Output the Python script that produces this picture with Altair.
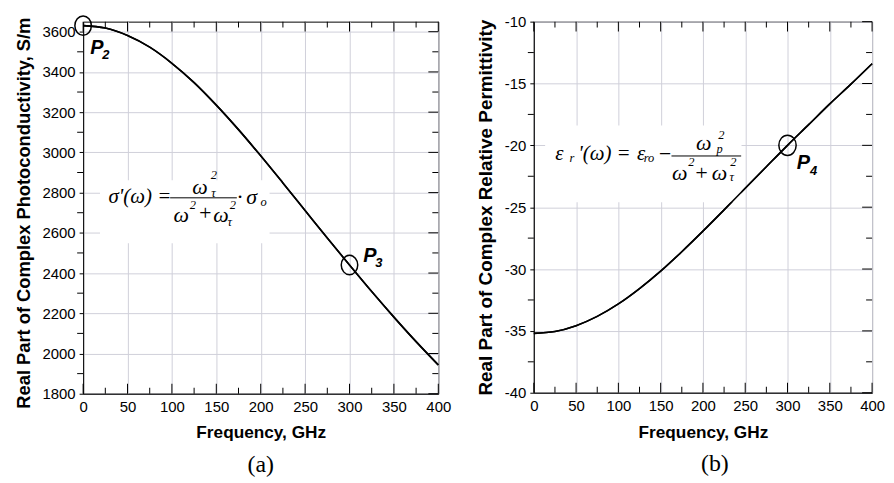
import altair as alt
import pandas as pd

# ---------------- data ----------------
freq_ghz = [0, 25, 50, 75, 100, 125, 150, 175, 200, 225, 250, 275, 300, 325, 350, 375, 400]
sigma_real = [3630, 3618, 3581, 3523, 3443, 3347, 3235, 3113, 2983, 2848, 2711, 2574,
              2440, 2308, 2181, 2059, 1943]
eps_real = [-35.2, -35.05, -34.58, -33.83, -32.82, -31.58, -30.17, -28.60, -26.94,
            -25.22, -23.47, -21.73, -20.0, -18.33, -16.65, -15.05, -13.4]

x_major = [0, 50, 100, 150, 200, 250, 300, 350, 400]
x_minor = [25, 75, 125, 175, 225, 275, 325, 375]
ya_major = [1800, 2000, 2200, 2400, 2600, 2800, 3000, 3200, 3400, 3600]
ya_minor = [1900, 2100, 2300, 2500, 2700, 2900, 3100, 3300, 3500]
yb_major = [-40, -35, -30, -25, -20, -15, -10]
yb_minor = [-37.5, -32.5, -27.5, -22.5, -17.5, -12.5]

# marked points
pts_a_x = [0, 300]
pts_a_y = [3630, 2440]
pts_b_x = [300]
pts_b_y = [-20.0]

XDOM = [0, 400]
YA_DOM = [1800, 3650]
YB_DOM = [-40, -10]

W_A, H_A = 357, 374
W_B, H_B = 340, 373

SERIF = "Liberation Serif"
SANS = "Liberation Sans"

XS = alt.Scale(domain=XDOM, nice=False)
LABEL_EXPR = "datum.value + ''"


def text_layer(df, ys, size, italic=True, font=SERIF, weight="normal", align="center"):
    return alt.Chart(df).mark_text(
        font=font, fontSize=size, fontStyle="italic" if italic else "normal",
        fontWeight=weight, align=align, baseline="middle", color="black"
    ).encode(
        x=alt.X("x:Q", scale=XS),
        y=alt.Y("y:Q", scale=ys),
        text="t:N",
    )


def tick_layers(ydom, ys, y_major, y_minor):
    layers = []
    # bottom / top: inward
    for vals, size in ((x_major, 10), (x_minor, 6)):
        df = pd.DataFrame({"x": vals})
        for yv, off in ((ydom[0], -size / 2), (ydom[1], size / 2)):
            layers.append(alt.Chart(df).mark_tick(orient="vertical", size=size, thickness=1,
                                                   color="black", opacity=1, yOffset=off).encode(
                x=alt.X("x:Q", scale=XS),
                y=alt.Y(datum=yv, scale=ys)))
    # left: outward (minor only; majors come from the axis); right: inward
    for vals, size, sides in ((y_minor, 6, ((XDOM[0], -3), (XDOM[1], -3))),
                              (y_major, 10, ((XDOM[1], -5),))):
        df = pd.DataFrame({"y": vals})
        for xv, off in sides:
            layers.append(alt.Chart(df).mark_tick(orient="horizontal", size=size, thickness=1,
                                                   color="black", opacity=1, xOffset=off).encode(
                y=alt.Y("y:Q", scale=ys),
                x=alt.X(datum=xv, scale=XS)))
    return layers


ELLIPSE = "M -0.85 0 A 0.85 1 0 1 0 0.85 0 A 0.85 1 0 1 0 -0.85 0 Z"


def panel(df, ys, y_major, y_minor, ydom, ytitle, ytitle_size, ytitle_shift, box, circ_df,
          circ_size, left_txt, center_txt, small_txt, bar, plab, psub, caption, cap_dx, w, h):
    base = alt.Chart(df).mark_line(color="black", strokeWidth=1.6, interpolate="monotone").encode(
        x=alt.X("x:Q", scale=XS,
                axis=alt.Axis(values=x_major, title="Frequency, GHz", grid=True, ticks=False,
                              tickSize=0, labelPadding=6, titlePadding=9.5,
                              labelExpr=LABEL_EXPR, labelFlush=False)),
        y=alt.Y("y:Q", scale=ys,
                axis=alt.Axis(values=y_major, title=ytitle, grid=True, ticks=True, tickSize=4,
                              labelPadding=4, titlePadding=9, labelExpr=LABEL_EXPR,
                              titleFontSize=ytitle_size, labelFlush=False,
                              titleY=h / 2 + ytitle_shift)),
    )
    box_l = alt.Chart(box).mark_rect(color="white").encode(
        x=alt.X("x:Q", scale=XS), x2="x2:Q", y=alt.Y("y:Q", scale=ys), y2="y2:Q")
    line_l = alt.Chart(df).mark_line(color="black", strokeWidth=1.6,
                                     interpolate="monotone").encode(
        x=alt.X("x:Q", scale=XS), y=alt.Y("y:Q", scale=ys))
    circ_l = alt.Chart(circ_df).mark_point(
        shape=ELLIPSE, size=circ_size, color="black", strokeWidth=1.5, filled=False,
        opacity=1).encode(x=alt.X("x:Q", scale=XS), y=alt.Y("y:Q", scale=ys))
    bar_l = alt.Chart(bar).mark_rule(color="black", strokeWidth=1).encode(
        x=alt.X("x:Q", scale=XS), x2="x2:Q", y=alt.Y("y:Q", scale=ys))
    layers = [base, box_l, *tick_layers(ydom, ys, y_major, y_minor), line_l, circ_l,
              text_layer(left_txt, ys, 21, align="left"),
              text_layer(center_txt, ys, 22),
              text_layer(small_txt, ys, 12.5),
              bar_l,
              text_layer(plab, ys, 20, font=SANS, weight="bold", align="left"),
              text_layer(psub, ys, 13, font=SANS, weight="bold", align="left")]
    return alt.layer(*layers).properties(
        width=w, height=h,
        title=alt.TitleParams(caption, orient="bottom", font=SERIF, fontSize=24,
                              fontWeight="normal", color="black", offset=12, dx=cap_dx),
    )


# ---------------- panel (a) ----------------
df_a = pd.DataFrame({"x": freq_ghz, "y": sigma_real})
ya_scale = alt.Scale(domain=YA_DOM, nice=False)

fa_left = pd.DataFrame({"t": ["σ'(ω) ="], "x": [28.6], "y": [2779]})
fa_center = pd.DataFrame({"t": ["ω", "ω", "+", "ω", "·", "σ"],
                          "x": [131.7, 110.4, 137.3, 155.2, 176.5, 189.9],
                          "y": [2828, 2689, 2697, 2689, 2779, 2779]})
fa_small = pd.DataFrame({"t": ["2", "τ", "2", "2", "τ", "o"],
                         "x": [147.3, 146.8, 123.7, 168.5, 165.0, 203.4],
                         "y": [2888, 2799, 2739, 2739, 2655, 2754]})

panel_a = panel(
    df_a, ya_scale, ya_major, ya_minor, YA_DOM,
    "Real Part of Complex Photoconductivity, S/m", 18.4, 5,
    pd.DataFrame({"x": [19], "x2": [210], "y": [2548], "y2": [2862]}),
    pd.DataFrame({"x": pts_a_x, "y": pts_a_y}), 380,
    fa_left, fa_center, fa_small,
    pd.DataFrame({"x": [98.0], "x2": [173.1], "y": [2774]}),
    pd.DataFrame({"t": ["P", "P"], "x": [8.0, 315.5], "y": [3521, 2487]}),
    pd.DataFrame({"t": ["2", "3"], "x": [21.5, 329.0], "y": [3483, 2450]}),
    "(a)", 0, W_A, H_A)

# ---------------- panel (b) ----------------
df_b = pd.DataFrame({"x": freq_ghz, "y": eps_real})
yb_scale = alt.Scale(domain=YB_DOM, nice=False)

fb_left = pd.DataFrame({"t": ["ε", "'(ω) =", "ε"],
                        "x": [25.5, 52.6, 122.0],
                        "y": [-20.73, -20.73, -20.73]})
fb_center = pd.DataFrame({"t": ["−", "ω", "ω", "+", "ω"],
                          "x": [154.6, 200.8, 172.6, 198.1, 219.6],
                          "y": [-20.73, -19.79, -22.2, -22.2, -22.2]})
fb_small = pd.DataFrame({"t": ["r", "ro", "2", "p", "2", "2", "τ"],
                         "x": [45.2, 136.2, 221.7, 219.6, 186.3, 236.1, 234.1],
                         "y": [-21.0, -21.0, -19.13, -20.3, -21.34, -21.34, -22.6]})

panel_b = panel(
    df_b, yb_scale, yb_major, yb_minor, YB_DOM,
    "Real Part of Complex Relative Permittivity", 19, 0,
    pd.DataFrame({"x": [13.4], "x2": [245.6], "y": [-24.6], "y2": [-18.4]}),
    pd.DataFrame({"x": pts_b_x, "y": pts_b_y}), 420,
    fb_left, fb_center, fb_small,
    pd.DataFrame({"x": [162.8], "x2": [245.2], "y": [-20.86]}),
    pd.DataFrame({"t": ["P"], "x": [311.0], "y": [-21.45]}),
    pd.DataFrame({"t": ["4"], "x": [326.5], "y": [-22.1]}),
    "(b)", 12, W_B, H_B)

chart = alt.hconcat(panel_a, panel_b, spacing=23).properties(
    padding={"left": 5.5, "top": 2.5, "right": 0, "bottom": -1}
).configure_view(
    stroke="black", strokeWidth=1
).configure_axis(
    labelFont=SANS, labelFontSize=15, labelColor="black",
    titleFont=SANS, titleFontSize=17.3, titleFontWeight="bold", titleColor="black",
    gridColor="#d0d0da", gridWidth=1, domainColor="black", domainWidth=1,
    tickColor="black",
)

chart.save("out.html", embed_options={"renderer": "svg", "actions": False})
